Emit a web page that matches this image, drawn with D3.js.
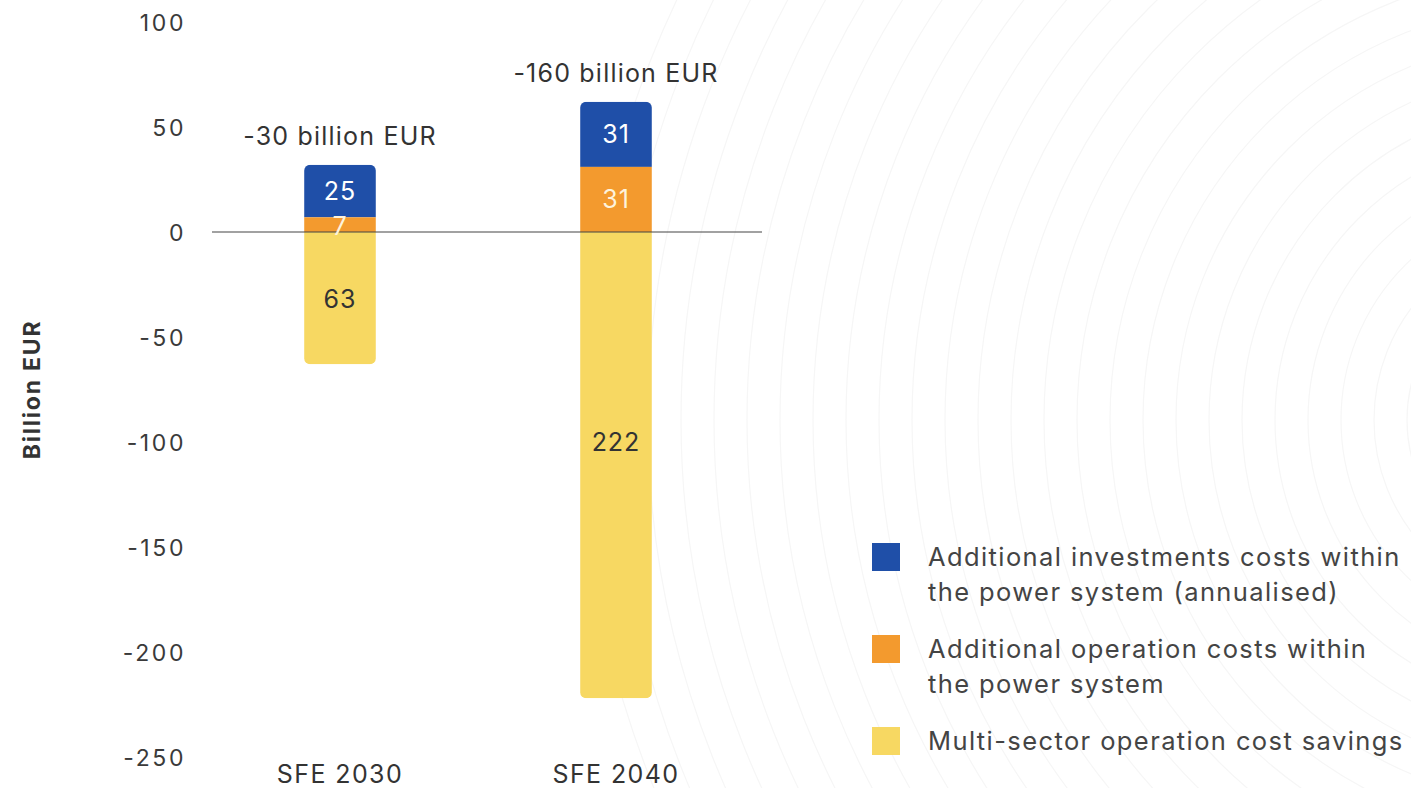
<!DOCTYPE html>
<html>
<head>
<meta charset="utf-8">
<script src="https://cdn.jsdelivr.net/npm/d3@7"></script>
<style>
  body { margin: 0; background: #fff; }
  text { font-family: Inter, "Noto Sans", sans-serif; }
</style>
</head>
<body>
<div class="chart"></div>
<script>
var categories = ['SFE 2030', 'SFE 2040'];
var investments = [25, 31];
var operation = [7, 31];
var savings = [-63, -222];
var savingsLabelAt = [-32, -100];
var totals = ['-30 billion EUR', '-160 billion EUR'];
var yTicks = [100, 50, 0, -50, -100, -150, -200, -250];
var seriesNames = [
    ['Additional investments costs within', 'the power system (annualised)'],
    ['Additional operation costs within', 'the power system'],
    ['Multi-sector operation cost savings']
];
var colors = ['#1f4fa8', '#f39a2e', '#f7d862'];

var W = 1411, H = 788;
var svg = d3.select('.chart').append('svg')
    .attr('width', W).attr('height', H);

// faint background rings
var rings = svg.append('g');
for (var r = 120; r < 1000; r += 33) {
    rings.append('circle')
        .attr('cx', 1560).attr('cy', 420).attr('r', r)
        .attr('fill', 'none').attr('stroke', '#f6f6f6').attr('stroke-width', 1.2);
}

var y = d3.scaleLinear().domain([-250, 100]).range([757, 22]);
var x = d3.scaleBand().domain(categories).range([202, 754]).paddingInner(0.74).paddingOuter(0.37);

// y axis labels
var yAxis = d3.axisLeft(y).tickValues(yTicks).tickSize(0).tickPadding(0)
    .tickFormat(function(d) { return String(d); });
var ya = svg.append('g').attr('transform', 'translate(186,0)').call(yAxis);
ya.select('.domain').remove();
ya.selectAll('text').attr('font-size', 23).attr('fill', '#3a3a3a')
    .attr('letter-spacing', 2.6)
    .attr('font-family', 'Inter, sans-serif').attr('dy', '0.36em');

svg.append('text')
    .attr('transform', 'translate(40,' + y(-75) + ') rotate(-90)')
    .attr('text-anchor', 'middle')
    .attr('font-size', 23).attr('font-weight', 700).attr('fill', '#333')
    .attr('letter-spacing', 1.8)
    .text('Billion EUR');

// stacked bars
var stacks = categories.map(function(c, i) {
    return [
        {key: 0, y0: operation[i], y1: operation[i] + investments[i], v: investments[i]},
        {key: 1, y0: 0, y1: operation[i], v: operation[i]},
        {key: 2, y0: savings[i], y1: 0, v: -savings[i]}
    ];
});

var defs = svg.append('defs');
categories.forEach(function(c, i) {
    var top = operation[i] + investments[i];
    defs.append('clipPath').attr('id', 'clip' + i)
        .append('rect')
        .attr('x', x(c)).attr('width', x.bandwidth())
        .attr('y', y(top)).attr('height', y(savings[i]) - y(top))
        .attr('rx', 6);
});

var bars = svg.selectAll('.bar').data(categories).enter().append('g')
    .attr('class', 'bar')
    .attr('clip-path', function(d, i) { return 'url(#clip' + i + ')'; });

bars.selectAll('rect').data(function(d, i) { return stacks[i].map(function(s) { s.cat = d; return s; }); })
    .enter().append('rect')
    .attr('x', function(s) { return x(s.cat); })
    .attr('width', x.bandwidth())
    .attr('y', function(s) { return y(s.y1); })
    .attr('height', function(s) { return y(s.y0) - y(s.y1); })
    .attr('fill', function(s) { return colors[s.key]; });

// zero line
svg.append('line')
    .attr('x1', 212).attr('x2', 762)
    .attr('y1', y(0)).attr('y2', y(0))
    .attr('stroke', '#444').attr('stroke-width', 1.2);

// segment labels
categories.forEach(function(c, i) {
    stacks[i].forEach(function(s) {
        var yy = (y(s.y0) + y(s.y1)) / 2;
        if (s.key === 1 && s.v < 10) yy = y(s.y0) - 6;
        if (s.key === 2) yy = y(savingsLabelAt[i]);
        svg.append('text')
            .attr('x', x(c) + x.bandwidth() / 2)
            .attr('y', yy).attr('dy', '0.36em')
            .attr('text-anchor', 'middle')
            .attr('font-size', 25).attr('letter-spacing', 1)
            .attr('fill', s.key === 2 ? '#333' : (s.key === 1 ? '#fdf3dc' : '#fff'))
            .text(s.v);
    });
    svg.append('text')
        .attr('x', x(c) + x.bandwidth() / 2)
        .attr('y', y(operation[i] + investments[i]) - 20)
        .attr('text-anchor', 'middle')
        .attr('font-size', 25).attr('letter-spacing', 1.2).attr('fill', '#333')
        .text(totals[i]);
    svg.append('text')
        .attr('x', x(c) + x.bandwidth() / 2)
        .attr('y', 783)
        .attr('text-anchor', 'middle')
        .attr('font-size', 25).attr('letter-spacing', 1.4).attr('fill', '#333')
        .text(c);
});

// legend
var lg = svg.append('g').attr('transform', 'translate(872,543)');
seriesNames.forEach(function(lines, i) {
    var g = lg.append('g').attr('transform', 'translate(0,' + (i * 92) + ')');
    g.append('rect').attr('width', 28).attr('height', 28).attr('fill', colors[i]);
    lines.forEach(function(t, j) {
        g.append('text')
            .attr('x', 56).attr('y', 23 + j * 35)
            .attr('font-size', 25.5).attr('letter-spacing', 1.4).attr('fill', '#444')
            .text(t);
    });
});
</script>
</body>
</html>
